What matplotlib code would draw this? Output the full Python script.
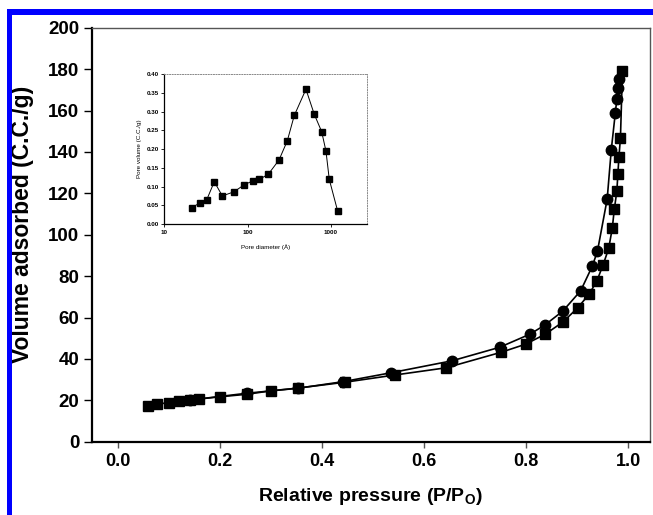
import matplotlib
matplotlib.use("Agg")
import matplotlib.pyplot as plt
from matplotlib.patches import Rectangle
from matplotlib.ticker import FixedLocator, FormatStrFormatter

plt.rcParams['font.family'] = ['Liberation Sans', 'DejaVu Sans']

# adsorption branch (squares)
ads_p = [0.058, 0.076, 0.099, 0.120, 0.140, 0.158, 0.199, 0.252, 0.300, 0.352,
         0.444, 0.542, 0.643, 0.751, 0.799, 0.838, 0.872, 0.901, 0.924, 0.939,
         0.951, 0.962, 0.969, 0.973, 0.978, 0.980, 0.982, 0.985, 0.989]
ads_v = [17.4, 18.1, 18.9, 19.7, 20.1, 20.6, 21.7, 22.9, 24.6, 25.9,
         28.7, 32.2, 35.7, 43.2, 47.1, 52.0, 57.8, 64.6, 71.4, 77.8,
         85.4, 93.4, 103.1, 112.3, 121.1, 129.3, 137.4, 146.6, 179.2]

# desorption branch (circles), starts at the top of the loop
des_p = [0.989, 0.983, 0.980, 0.978, 0.975, 0.967, 0.959, 0.940, 0.930, 0.907,
         0.872, 0.837, 0.808, 0.748, 0.655, 0.535, 0.441, 0.352, 0.252, 0.140]
des_v = [179.2, 175.1, 170.7, 165.6, 158.9, 140.9, 117.2, 92.1, 84.9, 72.9,
         63.1, 56.4, 52.0, 45.6, 39.1, 33.3, 29.0, 25.8, 23.4, 20.1]

# inset: pore size distribution
pore_d = [21.5, 27.0, 32.2, 39.8, 49.7, 68.5, 91.2, 115, 138, 177,
          238, 299, 363, 501, 631, 773, 871, 955, 1202]
pore_v = [0.044, 0.057, 0.064, 0.113, 0.075, 0.086, 0.105, 0.115, 0.119, 0.133,
          0.171, 0.222, 0.290, 0.360, 0.293, 0.247, 0.195, 0.119, 0.035]

W, H = 653, 515
fig = plt.figure(figsize=(W / 100, H / 100), dpi=100, facecolor='white')

# blue frame on top and left
fig.add_artist(Rectangle((7 / W, 1 - 15 / H), (W - 7) / W, 6 / H,
                         transform=fig.transFigure, color='#0000ff', lw=0))
fig.add_artist(Rectangle((7 / W, 0), 5 / W, 1 - 9 / H,
                         transform=fig.transFigure, color='#0000ff', lw=0))

ax = fig.add_axes([91.7 / W, 1 - 441.7 / H, (650 - 91.7) / W, (441.7 - 27.7) / H])
ax.plot(ads_p, ads_v, color='black', lw=1.2, marker='s', ms=6.5, mfc='black', mec='black')
ax.plot(des_p, des_v, color='black', lw=1.2, marker='o', ms=7.5, mfc='black', mec='black',
        markevery=list(range(1, len(des_p))))

ax.set_xlim(-0.052, 1.043)
ax.set_ylim(0, 200)
ax.set_xticks([0.0, 0.2, 0.4, 0.6, 0.8, 1.0])
ax.set_yticks(range(0, 201, 20))
ax.xaxis.set_major_formatter(FormatStrFormatter('%.1f'))
ax.tick_params(axis='y', direction='out', length=6, width=1, labelsize=13.5, pad=3)
ax.tick_params(axis='x', direction='out', length=4, width=1, color='#555555',
               labelsize=13, pad=4)
for lab in ax.get_xticklabels() + ax.get_yticklabels():
    lab.set_fontweight('bold')
for s in ['left', 'bottom']:
    ax.spines[s].set_linewidth(1.6)
for s in ['top', 'right']:
    ax.spines[s].set_linewidth(1.0)
    ax.spines[s].set_color('#555555')

ax.set_ylabel('Volume adsorbed (C.C./g)', fontsize=16.5, fontweight='bold')
ax.yaxis.set_label_coords(-0.104, 0.525)
ax.set_xlabel('Relative pressure (P/P$_\\mathregular{O}$)', fontsize=14,
              fontweight='bold', labelpad=12)

# inset
ins = fig.add_axes([164.3 / W, 1 - 224 / H, (367.3 - 164.3) / W, (224 - 74.3) / H])
ins.plot(pore_d, pore_v, color='black', lw=0.7, marker='s', ms=4.5, mfc='black', mec='black')
ins.set_xscale('log')
ins.set_xlim(10, 2730)
ins.set_ylim(0, 0.40)
ins.xaxis.set_major_locator(FixedLocator([10, 100, 1000]))
ins.set_xticklabels(['10', '100', '1000'])
ins.xaxis.set_minor_locator(FixedLocator([]))
ins.set_yticks([0.0, 0.05, 0.10, 0.15, 0.20, 0.25, 0.30, 0.35, 0.40])
ins.yaxis.set_major_formatter(FormatStrFormatter('%.2f'))
ins.tick_params(direction='out', length=2, width=0.6, labelsize=4.5, pad=2)
for lab in ins.get_xticklabels() + ins.get_yticklabels():
    lab.set_fontweight('bold')
for s in ['left', 'bottom']:
    ins.spines[s].set_linewidth(0.9)
for s in ['top', 'right']:
    ins.spines[s].set_linewidth(0.7)
    ins.spines[s].set_color('#888888')
    ins.spines[s].set_linestyle(':')
ins.set_ylabel('Pore volume (C.C./g)', fontsize=4.5, labelpad=3)
ins.set_xlabel('Pore diameter (Å)', fontsize=4.5, labelpad=7)

fig.savefig('out.png', dpi=100, facecolor='white')
